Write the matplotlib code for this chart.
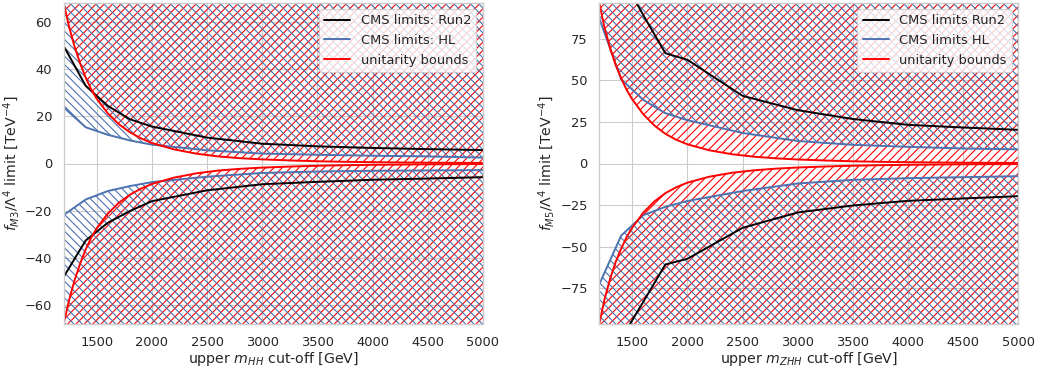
import matplotlib
matplotlib.use("Agg")
import matplotlib.pyplot as plt
import seaborn as sns

sns.set_theme(style="whitegrid", context="paper")
plt.rcParams["hatch.linewidth"] = 0.8
plt.rcParams["xtick.labelsize"] = 9.4
plt.rcParams["ytick.labelsize"] = 9.4
plt.rcParams["axes.labelsize"] = 10.2
plt.rcParams["legend.fontsize"] = 9.4

# mass cut-off points of the CMS limit curves [GeV]
m_cut = [1200, 1400, 1600, 1800, 2000, 2500, 3000, 3500, 4000, 4500, 5000]

# f_M3 limits (left panel) [TeV^-4]
m3_run2_up = [50, 33, 24.5, 18.8, 15.7, 11, 8.4, 7.3, 6.6, 6.1, 5.7]
m3_run2_lo = [-48.2, -32.7, -25.2, -20.2, -16, -11.4, -8.8, -7.8, -6.9, -6.4, -5.8]
m3_hl_up = [23.9, 15.4, 12.2, 9.8, 8.0, 5.6, 4.2, 3.7, 3.3, 3.0, 2.5]
m3_hl_lo = [-21.9, -15.3, -11.7, -9.6, -7.9, -5.6, -4.0, -3.4, -3.1, -2.95, -2.8]

# f_M5 limits (right panel) [TeV^-4]
m5_run2_up = [145, 113, 89, 66.2, 62.2, 40.6, 32, 26.7, 23.2, 21.6, 20.2]
m5_run2_lo = [-127, -105, -83, -60.6, -57.2, -38.6, -29.4, -25.2, -22.4, -21, -19.6]
m5_hl_up = [87.2, 50.5, 38.2, 30.2, 26, 18.3, 13.5, 11.2, 10, 9, 8.5]
m5_hl_lo = [-72.6, -43.2, -31, -26, -22.5, -16.5, -12, -9.8, -8.8, -8.2, -7.6]

# unitarity bounds
m_unit = [1200, 1250, 1300, 1350, 1400, 1450, 1500, 1600, 1700, 1800, 1900,
          2000, 2200, 2400, 2600, 2800, 3000, 3250, 3500, 3750, 4000, 4500, 5000]
m3_unit = [68.3, 58, 49.5, 42.5, 36.5, 31.5, 27.5, 21.3, 16.7, 13.3, 10.7,
           8.7, 6.0, 4.2, 3.0, 2.25, 1.75, 1.3, 0.95, 0.72, 0.56, 0.35, 0.23]
m5_unit = [96.5, 81, 69, 59, 51, 44, 38.5, 29.5, 22.8, 17.8, 14.2,
           11.5, 7.9, 5.6, 4.1, 3.1, 2.4, 1.8, 1.32, 1.0, 0.78, 0.49, 0.32]

blue = "#4C72B0"
red = "red"
BIG = 1000

panels = [
    dict(run2_up=m3_run2_up, run2_lo=m3_run2_lo, hl_up=m3_hl_up, hl_lo=m3_hl_lo,
         unit=m3_unit, ylim=68.3, yticks=[-60, -40, -20, 0, 20, 40, 60],
         ylabel=r"$f_{M3}/\Lambda^4$ limit [TeV$^{-4}$]",
         xlabel=r"upper $m_{HH}$ cut-off [GeV]",
         labels=["CMS limits: Run2", "CMS limits: HL", "unitarity bounds"],
         rect=[63.6 / 1039, 44.7 / 369, 419.4 / 1039, 321.6 / 369]),
    dict(run2_up=m5_run2_up, run2_lo=m5_run2_lo, hl_up=m5_hl_up, hl_lo=m5_hl_lo,
         unit=m5_unit, ylim=96.5, yticks=[-75, -50, -25, 0, 25, 50, 75],
         ylabel=r"$f_{M5}/\Lambda^4$ limit [TeV$^{-4}$]",
         xlabel=r"upper $m_{ZHH}$ cut-off [GeV]",
         labels=["CMS limits Run2", "CMS limits HL", "unitarity bounds"],
         rect=[599.2 / 1039, 44.7 / 369, 419.1 / 1039, 321.6 / 369]),
]

fig = plt.figure(figsize=(10.39, 3.69), dpi=100)

for p in panels:
    ax = fig.add_axes(p["rect"])
    unit_lo = [-v for v in p["unit"]]

    # excluded regions: red = beyond unitarity, blue = beyond HL limits
    ax.fill_between(m_unit, p["unit"], BIG, facecolor="none", edgecolor=red,
                    hatch="////", linewidth=0)
    ax.fill_between(m_unit, -BIG, unit_lo, facecolor="none", edgecolor=red,
                    hatch="////", linewidth=0)
    ax.fill_between(m_cut, p["hl_up"], BIG, facecolor="none", edgecolor=blue,
                    hatch="\\\\\\\\", linewidth=0)
    ax.fill_between(m_cut, -BIG, p["hl_lo"], facecolor="none", edgecolor=blue,
                    hatch="\\\\\\\\", linewidth=0)

    ax.plot(m_cut, p["run2_up"], color="black", lw=1.4, label=p["labels"][0])
    ax.plot(m_cut, p["run2_lo"], color="black", lw=1.4)
    ax.plot(m_cut, p["hl_up"], color=blue, lw=1.4, label=p["labels"][1])
    ax.plot(m_cut, p["hl_lo"], color=blue, lw=1.4)
    ax.plot(m_unit, p["unit"], color=red, lw=1.4, label=p["labels"][2])
    ax.plot(m_unit, unit_lo, color=red, lw=1.4)

    ax.set_xlim(1200, 5000)
    ax.set_ylim(-p["ylim"], p["ylim"])
    ax.set_xticks([1500, 2000, 2500, 3000, 3500, 4000, 4500, 5000])
    ax.set_yticks(p["yticks"])
    ax.set_xlabel(p["xlabel"], labelpad=1)
    ax.set_ylabel(p["ylabel"], labelpad=2)
    ax.legend(loc="upper right")

fig.savefig("out.png", dpi=100)
